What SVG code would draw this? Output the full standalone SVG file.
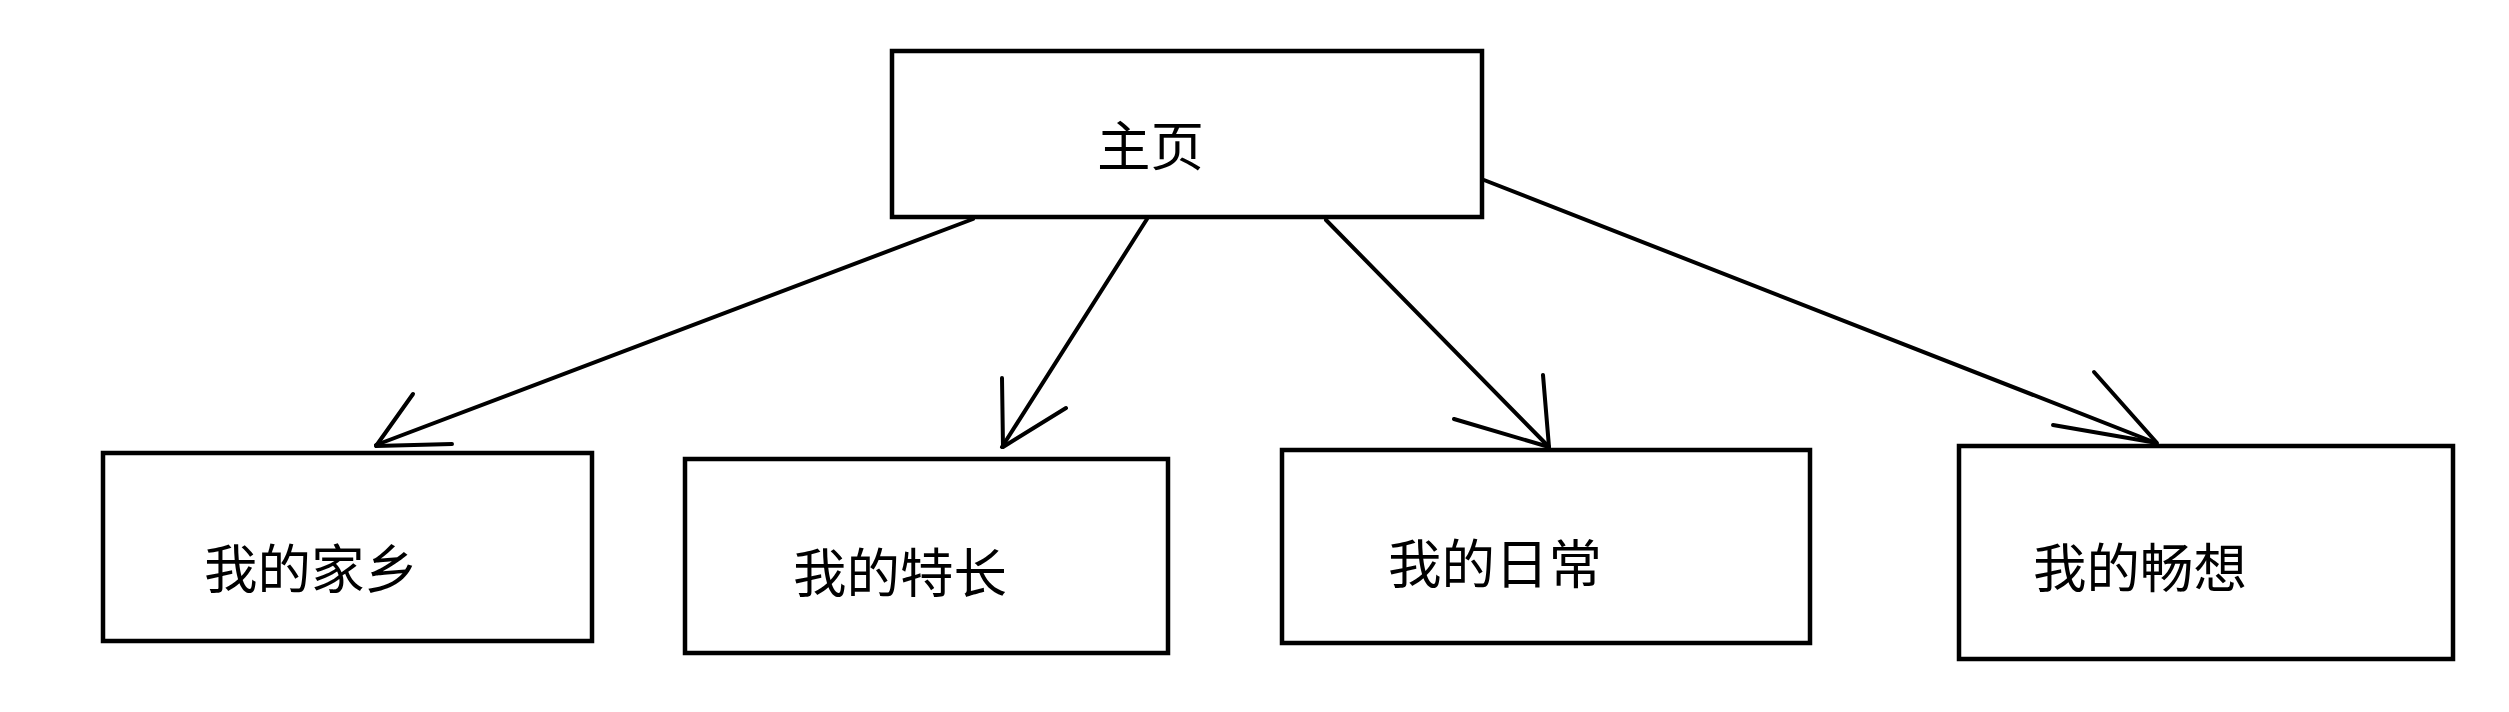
<svg xmlns="http://www.w3.org/2000/svg" width="2509" height="712" viewBox="0 0 2509 712">
<style>
.box{fill:#fff;stroke:#000;stroke-width:4.5}
.lbl{font-family:"Noto Sans CJK SC","Noto Sans",sans-serif;font-size:53.5px;fill:#000}
.ln{fill:none;stroke:#000;stroke-width:4;stroke-linecap:round;stroke-linejoin:round}
</style>
<rect width="2509" height="712" fill="#fff"/>
<g id="connectors">
<path class="ln" d="M973,219 L376,445"/>
<path class="ln" d="M413,394 L376,446 L452,444"/>
<path class="ln" d="M1147,219 L1002,447"/>
<path class="ln" d="M1002,378 L1003,447 L1066,408"/>
<path class="ln" d="M1326,220 L1549,447"/>
<path class="ln" d="M1543,375 L1549,447 L1454,419"/>
<path class="ln" d="M1484,180 L2156,443"/>
<path class="ln" d="M2094,372 L2157,443 L2053,425"/>
</g>
<g id="home">
<rect class="box" x="892" y="51" width="590" height="166"/>
<text class="lbl" x="1097" y="166">主页</text>
</g>
<g id="hometown">
<rect class="box" x="103" y="453" width="489" height="188"/>
<text class="lbl" x="204" y="589">我的家乡</text>
</g>
<g id="specialty">
<rect class="box" x="685" y="459" width="483" height="194"/>
<text class="lbl" x="793" y="593">我的特长</text>
</g>
<g id="daily">
<rect class="box" x="1282" y="450" width="528" height="193"/>
<text class="lbl" x="1388" y="584">我的日常</text>
</g>
<g id="dream">
<rect class="box" x="1959" y="446" width="494" height="213"/>
<text class="lbl" x="2033" y="588">我的畅想</text>
</g>
</svg>
